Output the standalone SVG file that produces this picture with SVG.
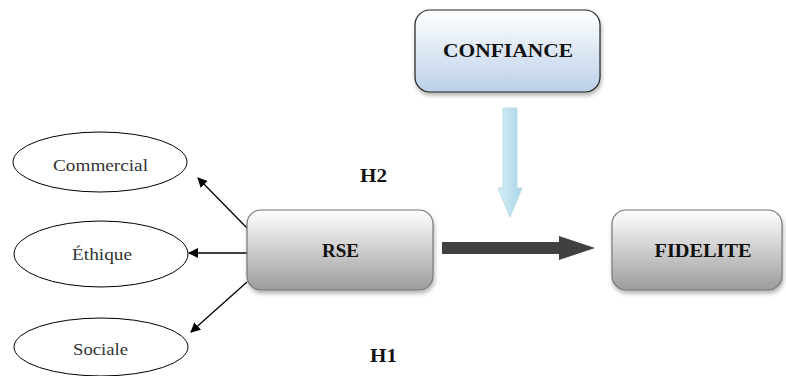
<svg xmlns="http://www.w3.org/2000/svg" width="786" height="376" viewBox="0 0 786 376">
<defs>
<linearGradient id="gBlue" x1="0" y1="0" x2="0" y2="1"><stop offset="0" stop-color="#ffffff"/><stop offset="1" stop-color="#bcd0e8"/></linearGradient>
<linearGradient id="gGray" x1="0" y1="0" x2="0" y2="1"><stop offset="0" stop-color="#ffffff"/><stop offset="1" stop-color="#9c9c9c"/></linearGradient>
<linearGradient id="gArrow" x1="0" y1="0" x2="1" y2="0"><stop offset="0" stop-color="#d6eef5"/><stop offset="1" stop-color="#a9d6e6"/></linearGradient>
<filter id="sh" x="-10%" y="-10%" width="130%" height="140%"><feDropShadow dx="1" dy="3" stdDeviation="2" flood-color="#000" flood-opacity="0.3"/></filter>
<marker id="ah" markerWidth="10" markerHeight="10" refX="9" refY="5" orient="auto" markerUnits="userSpaceOnUse"><path d="M0,0 L10,5 L0,10 Z" fill="#000"/></marker>
</defs>
<style>
.lbl{font-family:"Liberation Serif","DejaVu Serif",serif;font-weight:bold;font-size:18px;fill:#111;text-anchor:middle}
.el{font-family:"Liberation Serif","DejaVu Serif",serif;font-size:16px;fill:#333;text-anchor:middle}
.ell{fill:#fff;stroke:#000;stroke-width:1}
.conn{stroke:#000;stroke-width:1.3;fill:none;marker-end:url(#ah)}
</style>
<g id="connectors">
<line class="conn" x1="247" y1="228" x2="198" y2="178"/>
<line class="conn" x1="247" y1="253" x2="189" y2="253"/>
<line class="conn" x1="247" y1="282" x2="191" y2="332"/>
<path d="M442,242 L559,242 L559,236 L595,248 L559,260 L559,254 L442,254 Z" fill="#404040"/>
<path d="M503,108 L517,108 L517,188 L522,188 L510,217 L498,188 L503,188 Z" fill="url(#gArrow)" stroke="#b8dde9" stroke-width="1"/>
</g>
<g id="confiance">
<rect x="415" y="10" width="185" height="82" rx="15" fill="url(#gBlue)" stroke="#222" stroke-width="1.2" filter="url(#sh)"/>
<text class="lbl" x="508" y="57" textLength="130" lengthAdjust="spacingAndGlyphs">CONFIANCE</text>
</g>
<g id="rse">
<rect x="247" y="210" width="186" height="80" rx="14" fill="url(#gGray)" stroke="#777" stroke-width="1.2" filter="url(#sh)"/>
<text class="lbl" x="340.5" y="257" textLength="37" lengthAdjust="spacingAndGlyphs">RSE</text>
</g>
<g id="fidelite">
<rect x="612" y="210" width="170" height="80" rx="14" fill="url(#gGray)" stroke="#777" stroke-width="1.2" filter="url(#sh)"/>
<text class="lbl" x="703" y="257" textLength="97" lengthAdjust="spacingAndGlyphs">FIDELITE</text>
</g>
<g id="commercial">
<ellipse class="ell" cx="100" cy="162" rx="87" ry="30"/>
<text class="el" x="100.5" y="171" textLength="95" lengthAdjust="spacingAndGlyphs">Commercial</text>
</g>
<g id="ethique">
<ellipse class="ell" cx="101" cy="254" rx="87" ry="33"/>
<text class="el" x="102" y="260" textLength="60" lengthAdjust="spacingAndGlyphs">Éthique</text>
</g>
<g id="sociale">
<ellipse class="ell" cx="101" cy="347" rx="87" ry="29"/>
<text class="el" x="100.5" y="355" textLength="55" lengthAdjust="spacingAndGlyphs">Sociale</text>
</g>
<g id="labels">
<text class="lbl" x="373.5" y="182" textLength="27" lengthAdjust="spacingAndGlyphs">H2</text>
<text class="lbl" x="383.5" y="362" textLength="27" lengthAdjust="spacingAndGlyphs">H1</text>
</g>
</svg>
